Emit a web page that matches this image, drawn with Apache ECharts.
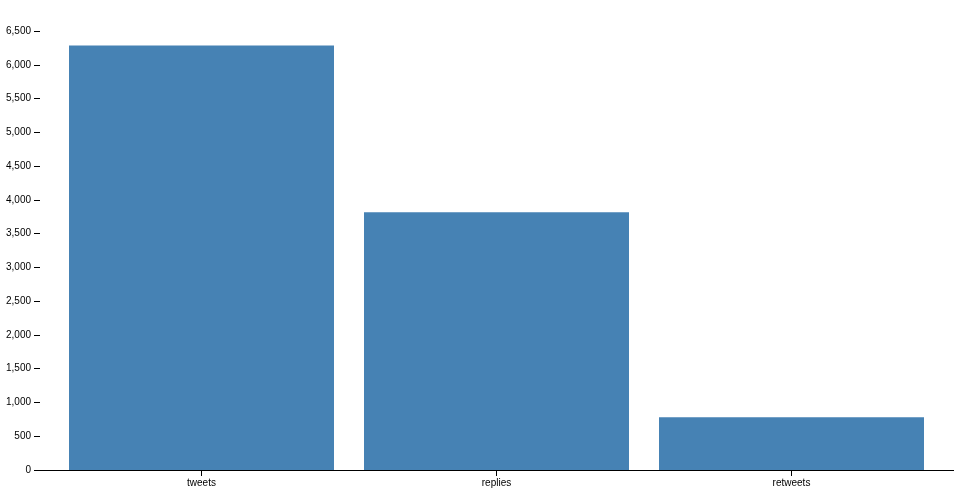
<!DOCTYPE html>
<html><head><meta charset="utf-8">
<script src="https://cdn.jsdelivr.net/npm/echarts@6/dist/echarts.min.js"></script>
<style>html,body{margin:0;padding:0;background:#fff}#c{width:954px;height:500px}</style>
</head><body><div id="c"></div>
<script>
const categories = ['tweets', 'replies', 'retweets'];
const counts = [6287, 3817, 780];
const yMax = 6500;
const yStep = 500;

const chart = echarts.init(document.getElementById('c'), null, {renderer: 'canvas'});
const font = 'Liberation Sans, Arial, Helvetica, sans-serif';
chart.setOption({
  animation: false,
  backgroundColor: '#fff',
  grid: [
    {left: 40, right: 0, top: 31, bottom: 30},
    {left: 54, right: 15, top: 31, bottom: 30}
  ],
  xAxis: [
    {gridIndex: 0, type: 'value', min: 0, max: 1,
     axisLine: {show: true, onZero: false, lineStyle: {color: '#000', width: 1}},
     axisTick: {show: false}, axisLabel: {show: false}, splitLine: {show: false}},
    {gridIndex: 1, type: 'category', data: categories,
     axisLine: {show: false},
     axisTick: {show: true, alignWithLabel: true, length: 6, lineStyle: {color: '#000'}},
     axisLabel: {color: '#000', fontSize: 10, fontFamily: font, margin: 8},
     splitLine: {show: false}}
  ],
  yAxis: [
    {gridIndex: 0, type: 'value', min: 0, max: yMax, interval: yStep,
     axisLine: {show: false},
     axisTick: {show: true, length: 6, lineStyle: {color: '#000'}},
     axisLabel: {color: '#000', fontSize: 10, fontFamily: font, margin: 9,
       formatter: v => v.toLocaleString('en-US')},
     splitLine: {show: false}},
    {gridIndex: 1, type: 'value', min: 0, max: yMax, interval: yStep, show: false}
  ],
  series: [{
    type: 'bar', xAxisIndex: 1, yAxisIndex: 1,
    data: counts, barWidth: 265,
    itemStyle: {color: '#4682b4'}
  }]
});
</script></body></html>
